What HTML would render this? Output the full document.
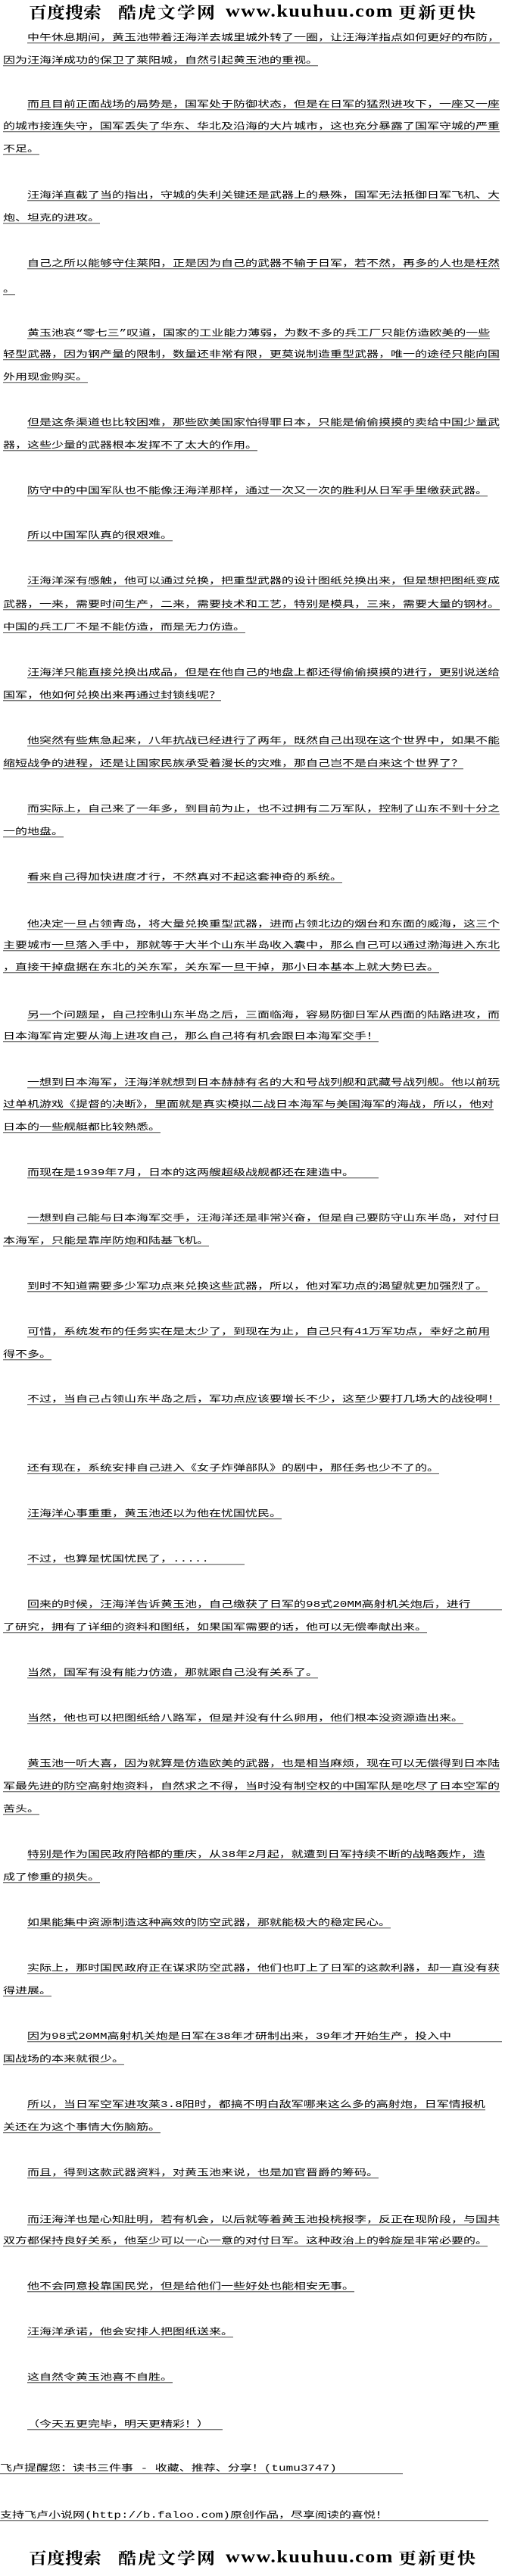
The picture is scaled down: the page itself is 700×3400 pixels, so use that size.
<!DOCTYPE html>
<html><head><meta charset="utf-8">
<style>
html,body{margin:0;padding:0;background:#fff;}
body{width:700px;height:3400px;position:relative;overflow:hidden;}
.l,.i{position:absolute;height:16px;line-height:16px;font-size:16px;white-space:nowrap;color:#000;
font-family:"Liberation Mono","WenQuanYi Zen Hei","Noto Sans CJK SC",monospace;transform:scaleY(.72);transform-origin:50% 50%;}
.l{left:4px;} .i{left:36px;}
.l span,.i span{display:inline-block;border-bottom:1px solid #000;line-height:17px;}
.h{position:absolute;font-weight:bold;color:#000;white-space:nowrap;line-height:24px;transform:scaleY(.88);}
.hc{font-family:"Noto Serif CJK SC","WenQuanYi Zen Hei",serif;font-size:24px;}
.hl{font-family:"Liberation Serif",serif;font-size:26px;letter-spacing:1.5px;}
</style></head><body>

<div class="h hc" style="left:38px;top:3px;">百度搜索</div>
<div class="h hc" style="left:156px;top:3px;letter-spacing:2px;">酷虎文学网</div>
<div class="h hl" style="left:298px;top:3px;">www.kuuhuu.com</div>
<div class="h hc" style="left:526px;top:3px;letter-spacing:2px;">更新更快</div>

<div class="i" style="top:42px"><span>中午休息期间，黄玉池带着汪海洋去城里城外转了一圈，让汪海洋指点如何更好的布防，</span></div>
<div class="l" style="top:72px"><span>因为汪海洋成功的保卫了莱阳城，自然引起黄玉池的重视。</span></div>
<div class="i" style="top:130px"><span>而且目前正面战场的局势是，国军处于防御状态，但是在日军的猛烈进攻下，一座又一座</span></div>
<div class="l" style="top:159px"><span>的城市接连失守，国军丢失了华东、华北及沿海的大片城市，这也充分暴露了国军守城的严重</span></div>
<div class="l" style="top:189px"><span>不足。</span></div>
<div class="i" style="top:250px"><span>汪海洋直截了当的指出，守城的失利关键还是武器上的悬殊，国军无法抵御日军飞机、大</span></div>
<div class="l" style="top:280px"><span>炮、坦克的进攻。</span></div>
<div class="i" style="top:340px"><span>自己之所以能够守住莱阳，正是因为自己的武器不输于日军，若不然，再多的人也是枉然</span></div>
<div class="l" style="top:374px"><span>。</span></div>
<div class="i" style="top:432px"><span>黄玉池哀“零七三”叹道，国家的工业能力薄弱，为数不多的兵工厂只能仿造欧美的一些</span></div>
<div class="l" style="top:460px"><span>轻型武器，因为钢产量的限制，数量还非常有限，更莫说制造重型武器，唯一的途径只能向国</span></div>
<div class="l" style="top:490px"><span>外用现金购买。</span></div>
<div class="i" style="top:550px"><span>但是这条渠道也比较困难，那些欧美国家怕得罪日本，只能是偷偷摸摸的卖给中国少量武</span></div>
<div class="l" style="top:580px"><span>器，这些少量的武器根本发挥不了太大的作用。</span></div>
<div class="i" style="top:640px"><span>防守中的中国军队也不能像汪海洋那样，通过一次又一次的胜利从日军手里缴获武器。</span></div>
<div class="i" style="top:699px"><span>所以中国军队真的很艰难。</span></div>
<div class="i" style="top:759px"><span>汪海洋深有感触，他可以通过兑换，把重型武器的设计图纸兑换出来，但是想把图纸变成</span></div>
<div class="l" style="top:790px"><span>武器，一来，需要时间生产，二来，需要技术和工艺，特别是模具，三来，需要大量的钢材。</span></div>
<div class="l" style="top:820px"><span>中国的兵工厂不是不能仿造，而是无力仿造。</span></div>
<div class="i" style="top:880px"><span>汪海洋只能直接兑换出成品，但是在他自己的地盘上都还得偷偷摸摸的进行，更别说送给</span></div>
<div class="l" style="top:910px"><span>国军，他如何兑换出来再通过封锁线呢？</span></div>
<div class="i" style="top:970px"><span>他突然有些焦急起来，八年抗战已经进行了两年，既然自己出现在这个世界中，如果不能</span></div>
<div class="l" style="top:1000px"><span>缩短战争的进程，还是让国家民族承受着漫长的灾难，那自己岂不是白来这个世界了？</span></div>
<div class="i" style="top:1060px"><span>而实际上，自己来了一年多，到目前为止，也不过拥有二万军队，控制了山东不到十分之</span></div>
<div class="l" style="top:1090px"><span>一的地盘。</span></div>
<div class="i" style="top:1150px"><span>看来自己得加快进度才行，不然真对不起这套神奇的系统。</span></div>
<div class="i" style="top:1212px"><span>他决定一旦占领青岛，将大量兑换重型武器，进而占领北边的烟台和东面的威海，这三个</span></div>
<div class="l" style="top:1240px"><span>主要城市一旦落入手中，那就等于大半个山东半岛收入囊中，那么自己可以通过渤海进入东北</span></div>
<div class="l" style="top:1269px"><span>，直接干掉盘据在东北的关东军，关东军一旦干掉，那小日本基本上就大势已去。</span></div>
<div class="i" style="top:1332px"><span>另一个问题是，自己控制山东半岛之后，三面临海，容易防御日军从西面的陆路进攻，而</span></div>
<div class="l" style="top:1360px"><span>日本海军肯定要从海上进攻自己，那么自己将有机会跟日本海军交手！</span></div>
<div class="i" style="top:1421px"><span>一想到日本海军，汪海洋就想到日本赫赫有名的大和号战列舰和武藏号战列舰。他以前玩</span></div>
<div class="l" style="top:1450px"><span>过单机游戏《提督的决断》，里面就是真实模拟二战日本海军与美国海军的海战，所以，他对</span></div>
<div class="l" style="top:1480px"><span>日本的一些舰艇都比较熟悉。</span></div>
<div class="i" style="top:1540px"><span style="min-width:464px">而现在是1939年7月，日本的这两艘超级战舰都还在建造中。</span></div>
<div class="i" style="top:1600px"><span>一想到自己能与日本海军交手，汪海洋还是非常兴奋，但是自己要防守山东半岛，对付日</span></div>
<div class="l" style="top:1630px"><span>本海军，只能是靠岸防炮和陆基飞机。</span></div>
<div class="i" style="top:1690px"><span>到时不知道需要多少军功点来兑换这些武器，所以，他对军功点的渴望就更加强烈了。</span></div>
<div class="i" style="top:1750px"><span>可惜，系统发布的任务实在是太少了，到现在为止，自己只有41万军功点，幸好之前用</span></div>
<div class="l" style="top:1780px"><span>得不多。</span></div>
<div class="i" style="top:1839px"><span>不过，当自己占领山东半岛之后，军功点应该要增长不少，这至少要打几场大的战役啊！</span></div>
<div class="i" style="top:1930px"><span>还有现在，系统安排自己进入《女子炸弹部队》的剧中，那任务也少不了的。</span></div>
<div class="i" style="top:1990px"><span>汪海洋心事重重，黄玉池还以为他在忧国忧民。</span></div>
<div class="i" style="top:2050px"><span style="min-width:287px">不过，也算是忧国忧民了，.....</span></div>
<div class="i" style="top:2110px"><span style="min-width:627px">回来的时候，汪海洋告诉黄玉池，自己缴获了日军的98式20MM高射机关炮后，进行</span></div>
<div class="l" style="top:2140px"><span>了研究，拥有了详细的资料和图纸，如果国军需要的话，他可以无偿奉献出来。</span></div>
<div class="i" style="top:2200px"><span>当然，国军有没有能力仿造，那就跟自己没有关系了。</span></div>
<div class="i" style="top:2260px"><span>当然，他也可以把图纸给八路军，但是并没有什么卵用，他们根本没资源造出来。</span></div>
<div class="i" style="top:2320px"><span>黄玉池一听大喜，因为就算是仿造欧美的武器，也是相当麻烦，现在可以无偿得到日本陆</span></div>
<div class="l" style="top:2350px"><span>军最先进的防空高射炮资料，自然求之不得，当时没有制空权的中国军队是吃尽了日本空军的</span></div>
<div class="l" style="top:2380px"><span>苦头。</span></div>
<div class="i" style="top:2440px"><span>特别是作为国民政府陪都的重庆，从38年2月起，就遭到日军持续不断的战略轰炸，造</span></div>
<div class="l" style="top:2470px"><span>成了惨重的损失。</span></div>
<div class="i" style="top:2530px"><span>如果能集中资源制造这种高效的防空武器，那就能极大的稳定民心。</span></div>
<div class="i" style="top:2590px"><span>实际上，那时国民政府正在谋求防空武器，他们也盯上了日军的这款利器，却一直没有获</span></div>
<div class="l" style="top:2620px"><span>得进展。</span></div>
<div class="i" style="top:2680px"><span style="min-width:627px">因为98式20MM高射机关炮是日军在38年才研制出来，39年才开始生产，投入中</span></div>
<div class="l" style="top:2710px"><span>国战场的本来就很少。</span></div>
<div class="i" style="top:2770px"><span>所以，当日军空军进攻莱3.8阳时，都搞不明白敌军哪来这么多的高射炮，日军情报机</span></div>
<div class="l" style="top:2800px"><span>关还在为这个事情大伤脑筋。</span></div>
<div class="i" style="top:2860px"><span>而且，得到这款武器资料，对黄玉池来说，也是加官晋爵的筹码。</span></div>
<div class="i" style="top:2922px"><span>而汪海洋也是心知肚明，若有机会，以后就等着黄玉池投桃报李，反正在现阶段，与国共</span></div>
<div class="l" style="top:2950px"><span>双方都保持良好关系，他至少可以一心一意的对付日军。这种政治上的斡旋是非常必要的。</span></div>
<div class="i" style="top:3010px"><span>他不会同意投靠国民党，但是给他们一些好处也能相安无事。</span></div>
<div class="i" style="top:3070px"><span>汪海洋承诺，他会安排人把图纸送来。</span></div>
<div class="i" style="top:3130px"><span>这自然令黄玉池喜不自胜。</span></div>
<div class="i" style="top:3192px"><span style="min-width:258px">（今天五更完毕，明天更精彩！）</span></div>
<div class="l" style="top:3250px;left:0"><span style="min-width:532px">飞卢提醒您：读书三件事 - 收藏、推荐、分享！(tumu3747)</span></div>
<div class="l" style="top:3312px;left:0"><span style="min-width:645px">支持飞卢小说网(http://b.faloo.com)原创作品，尽享阅读的喜悦！</span></div>

<div class="h hc" style="left:38px;top:3363px;">百度搜索</div>
<div class="h hc" style="left:156px;top:3363px;letter-spacing:2px;">酷虎文学网</div>
<div class="h hl" style="left:298px;top:3363px;">www.kuuhuu.com</div>
<div class="h hc" style="left:526px;top:3363px;letter-spacing:2px;">更新更快</div>
</body></html>
